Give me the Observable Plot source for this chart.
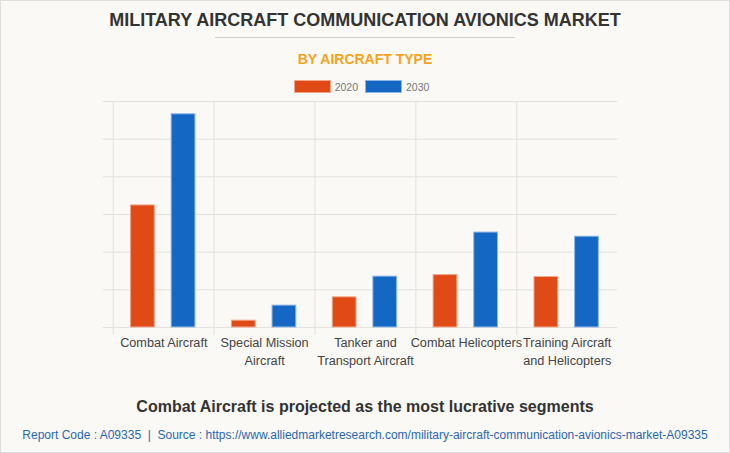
<!DOCTYPE html>
<html>
<head>
<meta charset="utf-8">
<script src="https://cdn.jsdelivr.net/npm/d3@7"></script>
<script src="https://cdn.jsdelivr.net/npm/@observablehq/plot@0.6"></script>
<style>
  html, body { margin: 0; padding: 0; background: #faf9f5; }
  #wrap { position: relative; width: 728px; height: 451px; border: 1px solid #dedede; background: #faf9f5; font-family: "Liberation Sans", Arial, sans-serif; overflow: hidden; }
  .abs { position: absolute; left: 0; width: 728px; text-align: center; white-space: nowrap; }
  #title { top: 9px; font-size: 18px; font-weight: bold; color: #333; }
  #rule { position: absolute; top: 36px; left: 214px; width: 300px; height: 0; border-top: 1px solid #cfcfcf; }
  #subtitle { top: 50px; font-size: 14px; font-weight: bold; color: #f6a31c; }
  #legend { top: 79px; font-size: 10.5px; color: #777; display: flex; justify-content: center; align-items: center; gap: 0; }
  .sw { display: inline-block; width: 37px; height: 13px; margin-right: 4px; box-sizing: border-box; }
  .lab { margin-right: 7px; }
  #chart { position: absolute; top: 89px; left: -1px; }
  #note { top: 397px; font-size: 16px; font-weight: bold; color: #333; }
  #foot { top: 427px; font-size: 12px; color: #2a67b1; }
</style>
</head>
<body>
<div id="wrap">
  <div id="title" class="abs">MILITARY AIRCRAFT COMMUNICATION AVIONICS MARKET</div>
  <div id="rule"></div>
  <div id="subtitle" class="abs">BY AIRCRAFT TYPE</div>
  <div id="legend" class="abs"></div>
  <div id="chart"></div>
  <div id="note" class="abs">Combat Aircraft is projected as the most lucrative segments</div>
  <div id="foot" class="abs">Report Code : A09335&nbsp; |&nbsp; Source : https://www.alliedmarketresearch.com/military-aircraft-communication-avionics-market-A09335</div>
</div>
<script>
const categories = ["Combat Aircraft", "Special Mission Aircraft", "Tanker and Transport Aircraft", "Combat Helicopters", "Training Aircraft and Helicopters"];
const tickLabels = ["Combat Aircraft", "Special Mission\nAircraft", "Tanker and\nTransport Aircraft", "Combat Helicopters", "Training Aircraft\nand Helicopters"];
const years = ["2020", "2030"];
const values2020 = [324, 18, 80, 139, 134];
const values2030 = [566, 58, 135, 252, 241];
const yTicks = [0, 100, 200, 300, 400, 500, 600];
const colors = ["#e04a16", "#1467c2"];
const strokes = ["#f2a588", "#8fb6e6"];

// legend
const legend = document.getElementById("legend");
years.forEach((y, i) => {
  const s = document.createElement("span");
  s.className = "sw";
  s.style.background = colors[i];
  s.style.border = "1px solid " + strokes[i];
  legend.appendChild(s);
  const t = document.createElement("span");
  t.className = "lab";
  t.textContent = y;
  legend.appendChild(t);
});

const rows2020 = categories.map((c, i) => ({category: c, value: values2020[i]}));
const rows2030 = categories.map((c, i) => ({category: c, value: values2030[i]}));
const labelRows = categories.map((c, i) => ({category: c, label: tickLabels[i]}));

const W = 730, H = 290, ML = 112, MR = 112;
const step = (W - ML - MR) / categories.length;
const barW = 24;
const off2020 = step * 0.175, off2030 = step * 0.577;
const gridColor = "#e2e1dd";

const chart = Plot.plot({
  width: W,
  height: H,
  marginLeft: ML,
  marginRight: MR,
  marginTop: 11,
  marginBottom: 52.7,
  style: {background: "transparent", fontFamily: "Liberation Sans, Arial, sans-serif"},
  x: {type: "band", domain: categories, padding: 0, axis: null},
  y: {domain: [0, 600], axis: null},
  marks: [
    Plot.ruleY(yTicks, {stroke: gridColor, strokeWidth: 1, insetLeft: -9}),
    Plot.ruleX(categories, {x: d => d, stroke: gridColor, strokeWidth: 1, dx: -step / 2, insetBottom: -8}),
    Plot.barY(rows2020, {x: "category", y: "value", fill: colors[0], stroke: strokes[0], strokeWidth: 1,
      insetLeft: off2020, insetRight: step - off2020 - barW}),
    Plot.barY(rows2030, {x: "category", y: "value", fill: colors[1], stroke: strokes[1], strokeWidth: 1,
      insetLeft: off2030, insetRight: step - off2030 - barW}),
    Plot.text(labelRows, {x: "category", y: () => 0, text: "label", lineAnchor: "top", dy: 7,
      fontSize: 12.7, fill: "#444", lineHeight: 1.42})
  ]
});
document.getElementById("chart").appendChild(chart);
</script>
</body>
</html>
